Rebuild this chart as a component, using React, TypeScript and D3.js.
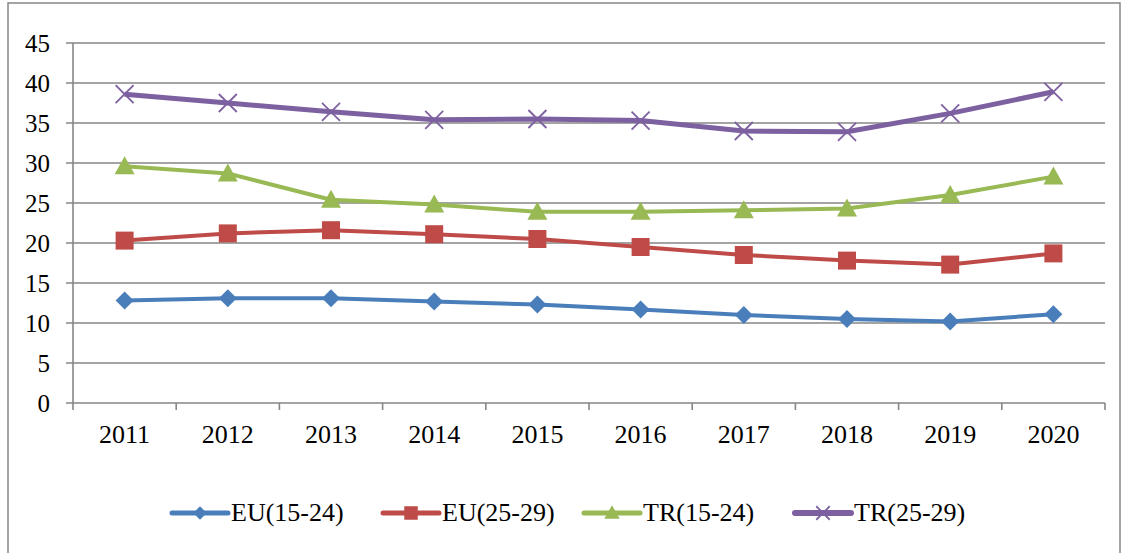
import React from "react";
import * as d3 from "d3";

const years = ["2011", "2012", "2013", "2014", "2015", "2016", "2017", "2018", "2019", "2020"];
const yTicks = [0, 5, 10, 15, 20, 25, 30, 35, 40, 45];

const eu1524 = [12.8, 13.1, 13.1, 12.7, 12.3, 11.7, 11.0, 10.5, 10.2, 11.1];
const eu2529 = [20.3, 21.2, 21.6, 21.1, 20.5, 19.5, 18.5, 17.8, 17.3, 18.7];
const tr1524 = [29.6, 28.7, 25.4, 24.8, 23.9, 23.9, 24.1, 24.3, 26.0, 28.3];
const tr2529 = [38.6, 37.5, 36.4, 35.4, 35.5, 35.3, 34.0, 33.9, 36.2, 38.9];

const series = [
  { name: "EU(15-24)", values: eu1524, color: "#4a7ebb", marker: "diamond", width: 4 },
  { name: "EU(25-29)", values: eu2529, color: "#be4b48", marker: "square", width: 4 },
  { name: "TR(15-24)", values: tr1524, color: "#98b954", marker: "triangle", width: 4 },
  { name: "TR(25-29)", values: tr2529, color: "#7d60a0", marker: "x", width: 5 },
];

const legendX = [172, 383, 584, 795];

const Marker = ({ kind, x, y, color, k = 1 }: { kind: string; x: number; y: number; color: string; k?: number }) => {
  const r = 9 * k;
  let d = "";
  if (kind === "x") {
    return (
      <g stroke={color} strokeWidth={1.8}>
        <line x1={x - r} y1={y - r} x2={x + r} y2={y + r} />
        <line x1={x - r} y1={y + r} x2={x + r} y2={y - r} />
      </g>
    );
  }
  if (kind === "diamond") d = `M0,${-r}L${r},0L0,${r}L${-r},0Z`;
  else if (kind === "square") d = `M${-r},${-r}H${r}V${r}H${-r}Z`;
  else d = `M0,${-r - 1}L${r + 1},${r - 1}L${-r - 1},${r - 1}Z`;
  return <path d={d} transform={`translate(${x},${y})`} fill={color} />;
};

export default function App() {
  const x = d3.scaleBand().domain(years).range([73, 1105]);
  const y = d3.scaleLinear().domain([0, 45]).range([403, 43]);
  const cx = (yr: string) => (x(yr) || 0) + x.bandwidth() / 2;
  const line = d3
    .line<number>()
    .x((_, i) => cx(years[i]))
    .y((d) => y(d));
  const font = "'Liberation Serif', 'Times New Roman', serif";

  return (
    <svg width={1127} height={553} style={{ position: "absolute", left: 0, top: 0 }} fontFamily={font}>
      <rect x={0} y={0} width={1127} height={553} fill="#fff" />
      <rect x={8} y={3} width={1112} height={560} fill="none" stroke="#868686" strokeWidth={1.5} />
      {/* gridlines and y labels */}
      {yTicks.map((t) => (
        <g key={t}>
          <line x1={66} x2={1105} y1={y(t)} y2={y(t)} stroke="#868686" strokeWidth={1.6} />
          <text x={50} y={y(t) + 9} fontSize={25} textAnchor="end" fill="#000">
            {t}
          </text>
        </g>
      ))}
      <line x1={73} x2={73} y1={y(45)} y2={410} stroke="#868686" strokeWidth={1.6} />
      {years.map((yr) => (
        <line key={yr} x1={(x(yr) || 0) + x.bandwidth()} x2={(x(yr) || 0) + x.bandwidth()} y1={403} y2={410} stroke="#868686" strokeWidth={1.6} />
      ))}
      {years.map((yr) => (
        <text key={yr} x={cx(yr)} y={443} fontSize={26} textAnchor="middle" fill="#000">
          {yr}
        </text>
      ))}
      {series.map((s) => (
        <g key={s.name}>
          <path d={line(s.values) || ""} fill="none" stroke={s.color} strokeWidth={s.width} strokeLinejoin="round" />
          {s.values.map((v, i) => (
            <Marker key={i} kind={s.marker} x={cx(years[i])} y={y(v)} color={s.color} />
          ))}
        </g>
      ))}
      {/* legend */}
      {series.map((s, i) => (
        <g key={s.name}>
          <line x1={legendX[i]} x2={legendX[i] + 56} y1={513} y2={513} stroke={s.color} strokeWidth={s.width + 1} strokeLinecap="round" />
          <Marker kind={s.marker} x={legendX[i] + 28} y={513} color={s.color} k={0.75} />
          <text x={legendX[i] + 59} y={521} fontSize={26} fill="#000">
            {s.name}
          </text>
        </g>
      ))}
    </svg>
  );
}
